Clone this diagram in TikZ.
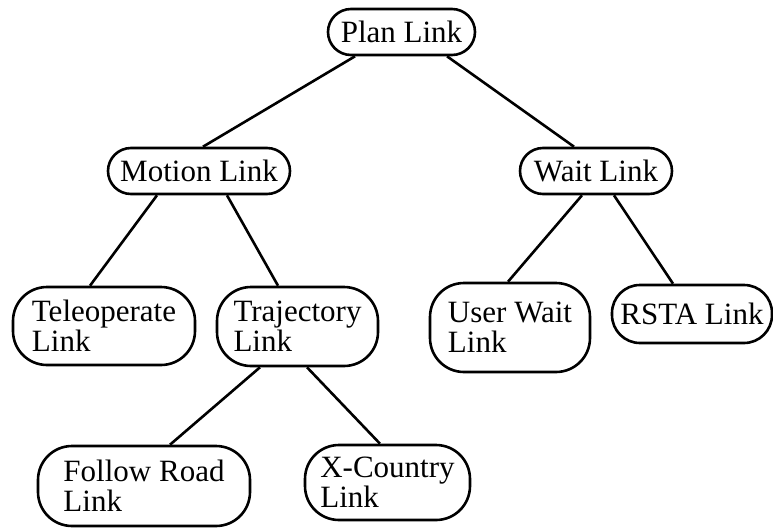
\documentclass[tikz,border=0pt]{standalone}
\usepackage{fontspec}
\setmainfont{Liberation Serif}
\begin{document}
\begin{tikzpicture}[x=1pt,y=-1pt,
  box/.style={draw, line width=2.6pt, rounded corners=23pt, inner sep=0pt,
              font=\fontsize{31}{30}\selectfont},
  onebox/.style={box, minimum height=46pt},
  twobox/.style={box, rounded corners=34pt, align=left},
  link/.style={line width=2.6pt}]
\useasboundingbox (0,0) rectangle (773,528);

% tree nodes
\node[onebox, minimum width=147pt] (plan) at (401.5,32) {Plan Link};
\node[onebox, minimum width=182pt] (motion) at (199,171) {Motion Link};
\node[onebox, minimum width=152pt] (wait) at (596,171) {Wait Link};
\node[twobox, minimum width=182pt, minimum height=78pt] (teleop) at (104,326) {Teleoperate\\Link};
\node[twobox, minimum width=161pt, minimum height=79pt] (traj) at (297.5,326.5) {Trajectory\\Link};
\node[twobox, minimum width=160pt, minimum height=89pt] (uwait) at (510,327.5) {User Wait\\Link};
\node[onebox, minimum width=160pt, minimum height=58pt, rounded corners=28pt] (rsta) at (692,314) {RSTA Link};
\node[twobox, minimum width=212pt, minimum height=80pt] (follow) at (144,486) {Follow Road\\Link};
\node[twobox, minimum width=165pt, minimum height=75pt] (xc) at (387.5,482.5) {X-Country\\Link};

% connectors
\draw[link] ([xshift=-46.5pt]plan.south) -- ([xshift=4pt]motion.north);
\draw[link] ([xshift=45.5pt]plan.south) -- ([xshift=-22pt]wait.north);
\draw[link] ([xshift=-42pt]motion.south) -- ([xshift=-14pt]teleop.north);
\draw[link] ([xshift=28pt]motion.south) -- ([xshift=-19.5pt]traj.north);
\draw[link] ([xshift=-14pt]wait.south) -- ([xshift=-2pt]uwait.north);
\draw[link] ([xshift=18pt]wait.south) -- ([xshift=-19pt]rsta.north);
\draw[link] ([xshift=-37.5pt]traj.south) -- ([xshift=26pt]follow.north);
\draw[link] ([xshift=9.5pt]traj.south) -- ([xshift=-7.5pt]xc.north);
\end{tikzpicture}
\end{document}
